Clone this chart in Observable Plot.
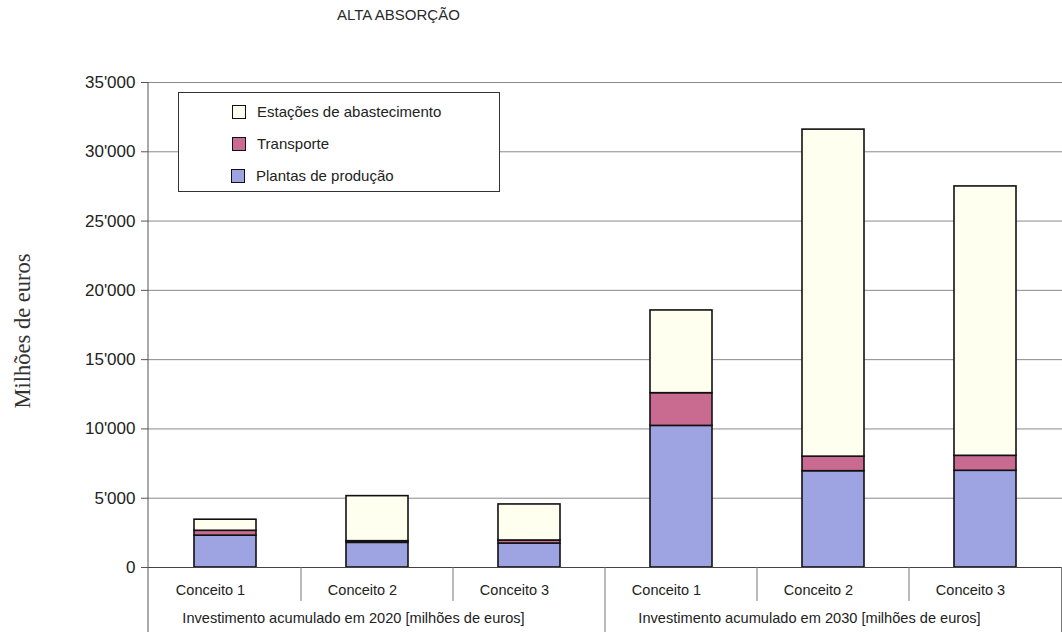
<!DOCTYPE html>
<html>
<head>
<meta charset="utf-8">
<script src="https://cdn.jsdelivr.net/npm/d3@7"></script>
<script src="https://cdn.jsdelivr.net/npm/@observablehq/plot@0.6"></script>
<style>
  html, body { margin: 0; padding: 0; background: #fff; }
  #wrap { position: relative; width: 1062px; height: 632px; overflow: hidden; font-family: "Liberation Sans", Arial, sans-serif; }
  #title { position: absolute; left: 337px; top: 6px; font-size: 15px; color: #2a2a2a; }
  #legend { position: absolute; left: 178px; top: 92px; width: 322px; height: 100px; border: 1.5px solid #333; background: #fff; box-sizing: border-box; font-size: 15px; color: #222; }
  .li { position: absolute; display: flex; align-items: center; }
  .sw { width: 12px; height: 12px; border: 1.5px solid #111; margin-right: 11px; }
</style>
</head>
<body>
<div id="wrap">
  <div id="title"></div>
  <div id="legend"></div>
</div>
<script>
const title = "ALTA ABSORÇÃO";
const yLabel = "Milhões de euros";
const years = ["2020", "2030"];
const concepts = ["Conceito 1", "Conceito 2", "Conceito 3"];
const groupLabels = ["Investimento acumulado em 2020 [milhões de euros]", "Investimento acumulado em 2030 [milhões de euros]"];
const seriesNames = ["Plantas de produção", "Transporte", "Estações de abastecimento"];
const seriesColors = ["#9ea3e2", "#c96b91", "#fffff0"];
// order: 2020 C1, C2, C3, 2030 C1, C2, C3
const plantas = [2300, 1780, 1730, 10220, 6950, 6980];
const transporte = [350, 120, 220, 2360, 1050, 1080];
const estacoes = [800, 3250, 2600, 5970, 23600, 19440];
const yTicks = [0, 5000, 10000, 15000, 20000, 25000, 30000, 35000];

const keys = [];
years.forEach(y => concepts.forEach(c => keys.push(y + "|" + c)));
const seriesValues = [plantas, transporte, estacoes];
const rows = [];
keys.forEach((k, i) => {
  seriesNames.forEach((s, j) => rows.push({key: k, series: s, value: seriesValues[j][i]}));
});

const fmt = d3.formatLocale({decimal: ".", thousands: "'", grouping: [3], currency: ["", ""]}).format(",");

const W = 1062, H = 632, ML = 148, MT = 82, MB = 65;
const font = "Liberation Sans, Arial, sans-serif";

const plot = Plot.plot({
  width: W, height: H,
  marginLeft: ML, marginRight: 0, marginTop: MT, marginBottom: MB,
  style: {background: "#fff", fontFamily: font},
  x: {domain: keys, padding: 0, axis: null},
  y: {domain: [0, 35000], axis: null},
  color: {domain: seriesNames, range: seriesColors},
  marks: [
    Plot.ruleY(yTicks, {stroke: "#8a8a8a", strokeWidth: 1}),
    Plot.axisY({ticks: yTicks, tickFormat: fmt, tickSize: 7, tickPadding: 6, fontSize: 17, fontFamily: font, label: null, stroke: "#555", color: "#222"}),
    Plot.barY(rows, Plot.stackY({x: "key", y: "value", fill: "series", stroke: "#111", strokeWidth: 1.6, insetLeft: 45, insetRight: 45, order: null})),
    Plot.ruleY([0], {stroke: "#444", strokeWidth: 1.2}),
    Plot.text(keys, {x: d => d, text: d => d.split("|")[1], frameAnchor: "bottom", dy: 27, dx: -15, fontSize: 14.5, fill: "#222", fontFamily: font}),
    Plot.text(years, {x: (d) => d + "|" + concepts[1], text: (d, i) => groupLabels[i], frameAnchor: "bottom", dy: 55, dx: -24, fontSize: 14.6, fill: "#222", fontFamily: font}),
    Plot.text([yLabel], {text: d => d, frameAnchor: "left", textAnchor: "middle", rotate: -90, dx: -126, dy: 6, fontSize: 22.5, fontFamily: "Liberation Serif, Times New Roman, serif", fill: "#333"})
  ]
});

// separators under the axis, placed from the x scale
const xs = plot.scale("x");
const svg = d3.select(plot);
const bottom = H - MB;
const g = svg.append("g").attr("stroke", "#777").attr("stroke-width", 1);
g.append("line").attr("x1", ML).attr("x2", ML).attr("y1", MT).attr("y2", H).attr("stroke", "#555");
keys.forEach((k, i) => {
  if (i === 0) return;
  const x = xs.apply(k);
  const long = i % concepts.length === 0;
  g.append("line").attr("x1", x).attr("x2", x).attr("y1", bottom).attr("y2", long ? H : bottom + 34);
});
g.append("line").attr("x1", W - 0.5).attr("x2", W - 0.5).attr("y1", bottom).attr("y2", H);

const wrap = document.getElementById("wrap");
wrap.insertBefore(plot, wrap.firstChild);
plot.style.position = "absolute"; plot.style.left = "0"; plot.style.top = "0";
document.getElementById("title").textContent = title;

const legend = document.getElementById("legend");
const legendOrder = [2, 1, 0];
legendOrder.forEach((si, r) => {
  const item = document.createElement("div");
  item.className = "li";
  item.style.left = (r === 2 ? 52 : 53) + "px";
  item.style.top = (10 + r * 32) + "px";
  const sw = document.createElement("div");
  sw.className = "sw";
  sw.style.background = seriesColors[si];
  const t = document.createElement("span");
  t.textContent = seriesNames[si];
  item.appendChild(sw); item.appendChild(t);
  legend.appendChild(item);
});
</script>
</body>
</html>
